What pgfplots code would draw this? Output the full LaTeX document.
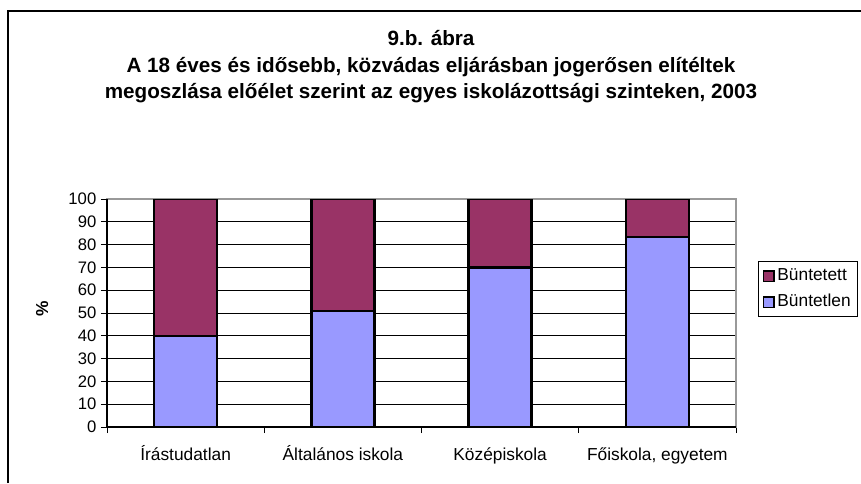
\documentclass[border=0pt]{standalone}
\usepackage{pgfplots}
\pgfplotsset{compat=1.18}
\usepackage{fontspec}
\setmainfont{Liberation Sans}
\definecolor{buntetett}{HTML}{993366}
\definecolor{buntetlen}{HTML}{9999FF}

\begin{document}
\begin{tikzpicture}
  \path[use as bounding box] (0,0) rectangle (645.75pt,362.25pt);
  % outer chart frame (cropped at right and bottom)
  \draw[line width=1pt] (6pt,0) -- (6pt,354pt) -- (645.75pt,354pt);
  \node[align=center, font=\bfseries\fontsize{15.5}{19.9}\selectfont] at (323.25pt,312pt)
    {9.b. ábra\\A 18 éves és idősebb, közvádas eljárásban jogerősen elítéltek\\megoszlása előélet szerint az egyes iskolázottsági szinteken, 2003};

  \begin{axis}[
    at={(80.25pt,42pt)}, anchor=south west,
    scale only axis, width=471.75pt, height=171pt,
    ybar stacked, bar width=47.25pt,
    xmin=0.5, xmax=4.5, ymin=0, ymax=100,
    xtick={0.5,1.5,2.5,3.5,4.5}, xticklabels={},
    extra x ticks={1,2,3,4},
    extra x tick labels={Írástudatlan,Általános iskola,Középiskola,{Főiskola, egyetem}},
    extra x tick style={major tick length=0pt},
    ytick={0,10,...,100},
    tick pos=left,
    ymajorgrids, grid style={black, line width=0.7pt},
    tick align=outside, major tick length=4.5pt,
    tick style={black, line width=0.7pt},
    axis line style={gray!80, line width=0.8pt},
    ticklabel style={font=\fontsize{13}{15}\selectfont},
    yticklabel style={font=\fontsize{12.5}{15}\selectfont},
    xticklabel style={text height=9pt, text depth=2pt, yshift=-12.5pt},
    /pgf/number format/assume math mode=true,
    ylabel={\%},
    ylabel style={font=\bfseries\fontsize{13}{15}\selectfont, at={(axis description cs:-0.103,0.52)}, anchor=center},
    reverse legend,
    legend cell align=left,
    legend style={at={(rel axis cs:1,1)}, anchor=north west, xshift=16.5pt, yshift=-46.5pt,
      draw=black, line width=0.75pt, font=\fontsize{13}{15}\selectfont,
      row sep=3.5pt, inner sep=3pt,
      nodes={text height=9.5pt, text depth=2.5pt}},
    legend image code/.code={\draw[#1, line width=1.2pt] (0pt,-4pt) rectangle (8pt,4pt);},
  ]
    \addplot[fill=buntetlen, draw=black, line width=1.8pt]
      coordinates {(1,40) (2,51) (3,70) (4,83.4)};
    \addplot[fill=buntetett, draw=black, line width=1.8pt]
      coordinates {(1,60) (2,49) (3,30) (4,16.6)};
    \legend{Büntetlen,Büntetett}
  \end{axis}
  % black left and bottom axis lines as in the reference
  \draw[black, line width=0.8pt] (80.25pt,213pt) -- (80.25pt,42pt) -- (552pt,42pt);
\end{tikzpicture}
\end{document}
